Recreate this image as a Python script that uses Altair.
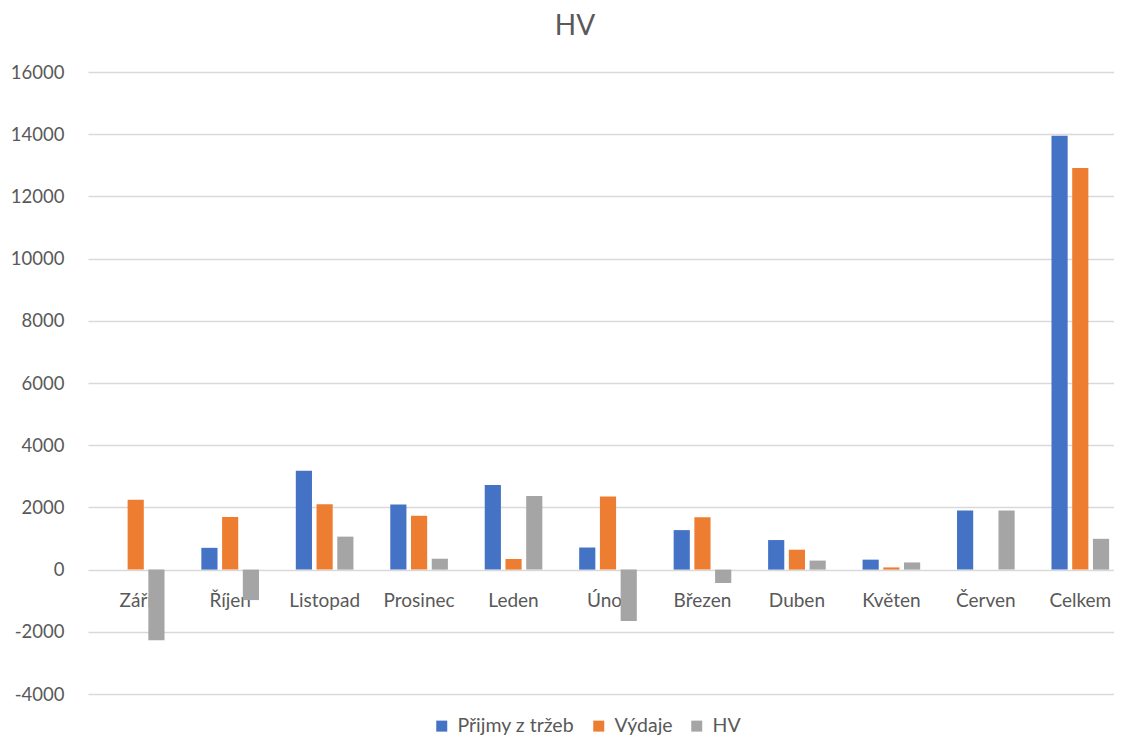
import altair as alt
import pandas as pd

categories = ["Září", "Říjen", "Listopad", "Prosinec", "Leden", "Únor",
              "Březen", "Duben", "Květen", "Červen", "Celkem"]
series = ["Přijmy z tržeb", "Výdaje", "HV"]
prijmy = [0, 700, 3180, 2090, 2720, 710, 1270, 950, 320, 1900, 13950]
vydaje = [2250, 1690, 2100, 1730, 340, 2350, 1680, 640, 70, 0, 12910]
hv = [-2270, -980, 1060, 350, 2370, -1650, -430, 290, 230, 1900, 990]
colors = ["#4472C4", "#ED7D31", "#A5A5A5"]
y_ticks = list(range(-4000, 16001, 2000))

rows = []
for s, vals in zip(series, [prijmy, vydaje, hv]):
    for c, v in zip(categories, vals):
        rows.append({"cat": c, "series": s, "value": v})
df = pd.DataFrame(rows)
labels_df = pd.DataFrame({"cat": categories})

FONT = "Lato"
GREY = "#595959"

xscale = alt.Scale(domain=categories, range=[0, 1040], paddingInner=0.39, paddingOuter=0.2)
yscale = alt.Scale(domain=[-4000, 16000], nice=False, zero=False)
yaxis = alt.Axis(values=y_ticks, labelExpr="'' + datum.value", title=None, ticks=False,
                 tickSize=0, domain=False, labelPadding=24, grid=True,
                 labelFont=FONT, labelFontSize=18.5, labelColor=GREY,
                 gridColor="#D9D9D9", gridWidth=1.3)

text_layer = alt.Chart(labels_df).mark_text(
    font=FONT, fontSize=19, color=GREY, dy=31, baseline="middle"
).encode(
    x=alt.X("cat:N", scale=xscale, axis=None, sort=categories),
    y=alt.Y(datum=0, scale=yscale, axis=yaxis),
    text="cat:N",
)

bars = alt.Chart(df).mark_bar().encode(
    x=alt.X("cat:N", scale=xscale, axis=None, sort=categories),
    xOffset=alt.XOffset("series:N", sort=series,
                        scale=alt.Scale(domain=series, paddingInner=0.22, paddingOuter=0)),
    y=alt.Y("value:Q", scale=yscale, axis=yaxis),
    color=alt.Color("series:N", sort=series,
                    scale=alt.Scale(domain=series, range=colors),
                    legend=alt.Legend(title=None, orient="none", direction="horizontal",
                                      legendX=344, legendY=644,
                                      symbolType="square", symbolSize=121,
                                      symbolStrokeWidth=0, labelOffset=6,
                                      labelFont=FONT, labelFontSize=19.5, labelColor=GREY,
                                      columnPadding=14, labelLimit=300)),
)

chart = alt.layer(text_layer, bars).properties(
    width=1026,
    height=622,
    title=alt.TitleParams("HV", font=FONT, fontSize=28, fontWeight="normal",
                          color=GREY, anchor="middle", dx=-26, offset=22),
    autosize=alt.AutoSizeParams(type="none"),
    padding={"left": 80, "top": 64, "right": 0, "bottom": 43},
).configure_view(stroke=None)

chart.save("out.html", embed_options={"renderer": "svg", "actions": False})
